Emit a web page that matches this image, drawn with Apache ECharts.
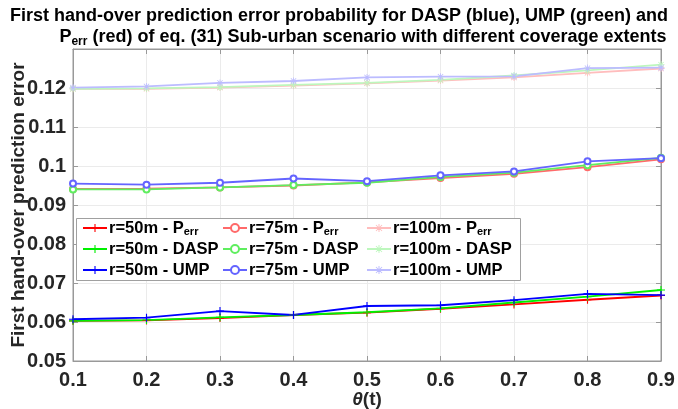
<!DOCTYPE html>
<html>
<head>
<meta charset="utf-8">
<script src="https://cdn.jsdelivr.net/npm/echarts@6/dist/echarts.min.js"></script>
<style>
  html, body { margin: 0; padding: 0; background: #fff; }
  #chart { width: 678px; height: 409px; }
</style>
</head>
<body>
<div id="chart"></div>
<script>
// θ(t) sample points
const theta = [0.1, 0.2, 0.3, 0.4, 0.5, 0.6, 0.7, 0.8, 0.9];

// r = 50 m
const perr50 = [0.0603, 0.0604, 0.0610, 0.0618, 0.0624, 0.0634, 0.0645, 0.0657, 0.0668];
const dasp50 = [0.0603, 0.0605, 0.0612, 0.0618, 0.0625, 0.0635, 0.0650, 0.0665, 0.0682];
const ump50  = [0.0607, 0.0611, 0.0628, 0.0618, 0.0641, 0.0643, 0.0656, 0.0672, 0.0669];

// r = 75 m
const perr75 = [0.0941, 0.0942, 0.0945, 0.0950, 0.0958, 0.0969, 0.0980, 0.0997, 0.1017];
const dasp75 = [0.0940, 0.0940, 0.0945, 0.0951, 0.0957, 0.0972, 0.0983, 0.1002, 0.1021];
const ump75  = [0.0955, 0.0952, 0.0957, 0.0968, 0.0961, 0.0976, 0.0986, 0.1012, 0.1020];

// r = 100 m
const perr100 = [0.1198, 0.1198, 0.1201, 0.1206, 0.1212, 0.1219, 0.1227, 0.1239, 0.1250];
const dasp100 = [0.1198, 0.1199, 0.1202, 0.1208, 0.1213, 0.1221, 0.1232, 0.1245, 0.1260];
const ump100  = [0.1201, 0.1204, 0.1213, 0.1218, 0.1227, 0.1229, 0.1230, 0.1251, 0.1252];

const FONT = 'Liberation Sans';

const PLUS = 'path://M4.3,0H5.7V4.3H10V5.7H5.7V10H4.3V5.7H0V4.3H4.3Z';
const STAR = 'path://M4.4,0H5.6V4.4H10V5.6H5.6V10H4.4V5.6H0V4.4H4.4Z' +
             'M1.6,0.8L9.2,8.4L8.4,9.2L0.8,1.6Z M8.4,0.8L9.2,1.6L1.6,9.2L0.8,8.4Z';

function pairs(ys) { return theta.map((x, i) => [x, ys[i]]); }

function mk(name, ys, color, symbol, size) {
  return {
    name: name,
    type: 'line',
    data: pairs(ys),
    symbol: symbol,
    symbolSize: size,
    showAllSymbol: true,
    lineStyle: { color: color, width: 1.8 },
    itemStyle: { color: color, borderColor: color, borderWidth: symbol === 'emptyCircle' ? 1.5 : 0 },
    emphasis: { disabled: true },
    animation: false
  };
}

const series = [
  mk('r=50m - Perr', perr50, '#ff0000', PLUS, 8),
  mk('r=50m - DASP', dasp50, '#00f000', PLUS, 8),
  mk('r=50m - UMP', ump50, '#0000ff', PLUS, 8),
  mk('r=75m - Perr', perr75, '#ff6a6a', 'emptyCircle', 6),
  mk('r=75m - DASP', dasp75, '#5fee5f', 'emptyCircle', 6),
  mk('r=75m - UMP', ump75, '#6464ff', 'emptyCircle', 6),
  mk('r=100m - Perr', perr100, '#ffbdbd', STAR, 7),
  mk('r=100m - DASP', dasp100, '#bdf7bd', STAR, 7),
  mk('r=100m - UMP', ump100, '#bcbcff', STAR, 7)
];

const legendRich = {
  s: { fontFamily: FONT, fontWeight: 'bold', fontSize: 11, lineHeight: 10, verticalAlign: 'bottom', color: '#000' }
};
function legendFmt(name) {
  return name.endsWith('Perr') ? name.replace('Perr', 'P{s|err}') : name;
}
function legendCol(left, names) {
  return {
    orient: 'vertical',
    left: left,
    top: 219,
    padding: 0,
    itemGap: 3,
    itemWidth: 24,
    itemHeight: 10,
    data: names,
    selectedMode: false,
    formatter: legendFmt,
    textStyle: {
      fontFamily: FONT, fontWeight: 'bold', fontSize: 16.5, lineHeight: 18, color: '#000',
      rich: legendRich, padding: [0, 0, 0, -3]
    },
    z: 5
  };
}

const axisLabelStyle = { fontFamily: FONT, fontWeight: 'bold', fontSize: 20, color: '#262626' };
const gridLine = { show: true, lineStyle: { color: '#ebebeb', width: 1 } };
const edge = { show: true, lineStyle: { color: '#999', width: 1 } };

const option = {
  backgroundColor: '#fff',
  animation: false,
  title: {
    left: 'center',
    top: 1,
    text: 'First hand-over prediction error probability for DASP (blue), UMP (green) and\n' +
          '{q|P}{s|err}{p| (red) of eq. (31) Sub-urban scenario with different coverage extents}',
    textStyle: {
      fontFamily: FONT, fontWeight: 'bold', fontSize: 18, color: '#000', lineHeight: 21,
      rich: {
        q: { fontFamily: FONT, fontWeight: 'bold', fontSize: 18, lineHeight: 21, color: '#000', padding: [0, 0, 0, 48] },
        p: { fontFamily: FONT, fontWeight: 'bold', fontSize: 18, lineHeight: 21, color: '#000' },
        s: { fontFamily: FONT, fontWeight: 'bold', fontSize: 12, lineHeight: 11, verticalAlign: 'bottom', color: '#000' }
      }
    }
  },
  grid: {
    left: 73, right: 17, top: 49, bottom: 48,
    outerBoundsMode: 'none', containLabel: false,
    show: true, borderColor: '#999', borderWidth: 1
  },
  xAxis: [{
    type: 'value', min: 0.1, max: 0.9, interval: 0.1,
    axisLine: edge,
    axisTick: { show: true, inside: true, length: 5, lineStyle: { color: '#999' } },
    axisLabel: Object.assign({ margin: 9, formatter: v => String(+v.toFixed(2)) }, axisLabelStyle),
    splitLine: gridLine,
    name: '{i|θ}(t)',
    nameLocation: 'middle',
    nameGap: 29,
    nameMoveOverlap: false,
    nameTextStyle: {
      fontFamily: FONT, fontWeight: 'bold', fontSize: 19, color: '#262626',
      rich: { i: { fontFamily: FONT, fontStyle: 'italic', fontSize: 19, color: '#262626' } }
    }
  }, {
    type: 'value', position: 'top', min: 0.1, max: 0.9, interval: 0.1,
    axisLine: edge,
    axisTick: { show: true, inside: true, length: 5, lineStyle: { color: '#999' } },
    axisLabel: { show: false }, splitLine: { show: false }
  }],
  yAxis: [{
    type: 'value', min: 0.05, max: 0.13, interval: 0.01,
    axisLine: edge,
    axisTick: { show: true, inside: true, length: 5, lineStyle: { color: '#999' } },
    axisLabel: Object.assign({ margin: 7, showMaxLabel: false, formatter: v => String(+v.toFixed(2)) }, axisLabelStyle),
    splitLine: gridLine,
    name: 'First hand-over prediction error',
    nameLocation: 'middle',
    nameRotate: 90,
    nameGap: 45,
    nameMoveOverlap: false,
    nameTextStyle: { fontFamily: FONT, fontWeight: 'bold', fontSize: 19, color: '#262626' }
  }, {
    type: 'value', position: 'right', min: 0.05, max: 0.13, interval: 0.01,
    axisLine: edge,
    axisTick: { show: true, inside: true, length: 5, lineStyle: { color: '#999' } },
    axisLabel: { show: false }, splitLine: { show: false }
  }],
  legend: [
    legendCol(82, ['r=50m - Perr', 'r=50m - DASP', 'r=50m - UMP']),
    legendCol(222, ['r=75m - Perr', 'r=75m - DASP', 'r=75m - UMP']),
    legendCol(366, ['r=100m - Perr', 'r=100m - DASP', 'r=100m - UMP'])
  ],
  graphic: [{
    type: 'rect', z: 4, silent: true,
    shape: { x: 76.5, y: 218.5, width: 444, height: 62 },
    style: { fill: '#fff', stroke: '#a0a0a0', lineWidth: 1 }
  }],
  series: series
};

const chart = echarts.init(document.getElementById('chart'), null, { renderer: 'canvas' });
chart.setOption(option);
</script>
</body>
</html>
